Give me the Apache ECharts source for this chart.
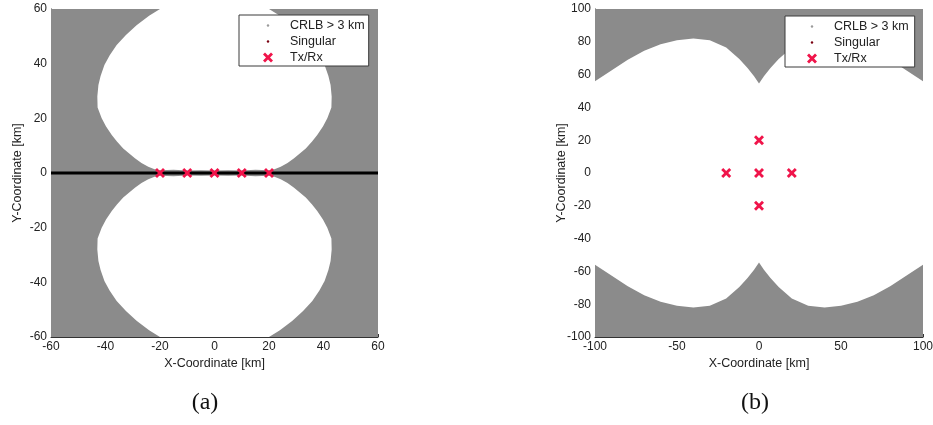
<!DOCTYPE html>
<html>
<head>
<meta charset="utf-8">
<title>CRLB coverage</title>
<script src="https://cdn.jsdelivr.net/npm/echarts@6/dist/echarts.min.js"></script>
<style>
  html, body { margin: 0; padding: 0; background: #ffffff; }
  #chart { width: 933px; height: 425px; }
</style>
</head>
<body>
<div id="chart"></div>
<script>
// ---------- Panel (a): transmitters/receivers on a line ----------
const aTicksX = [-60, -40, -20, 0, 20, 40, 60];
const aTicksY = [-60, -40, -20, 0, 20, 40, 60];
const aTxRxX = [-20, -10, 0, 10, 20];
const aTxRxY = [0, 0, 0, 0, 0];
const aSingularX = [-60, 60];
const aSingularY = [0, 0];
// outline of the upper region where CRLB <= 3 km
const aUpperLobeX = [-20.0, -24.0, -28.6, -32.5, -35.9, -38.5, -40.4, -41.8, -42.6, -43.0, -42.9,
  -41.4, -39.8, -37.7, -35.8, -33.5, -31.3, -29.2, -26.8, -24.3, -22.0, -20.0,
  -15.0, -10.0, -5.0, 0.0, 5.0, 10.0, 15.0,
  20.0, 22.0, 24.3, 26.8, 29.2, 31.3, 33.5, 35.8, 37.7, 39.8, 41.4,
  42.9, 43.0, 42.6, 41.8, 40.4, 38.5, 35.9, 32.5, 28.6, 24.0, 20.0];
const aUpperLobeY = [60.0, 57.5, 54.1, 50.5, 46.8, 43.0, 39.5, 35.5, 32.2, 28.0, 24.0,
  20.0, 17.0, 13.9, 11.5, 9.0, 7.1, 5.4, 3.7, 2.3, 1.4, 1.0,
  1.2, 0.9, 1.0, 0.9, 1.0, 0.9, 1.2,
  1.0, 1.4, 2.3, 3.7, 5.4, 7.1, 9.0, 11.5, 13.9, 17.0, 20.0,
  24.0, 28.0, 32.2, 35.5, 39.5, 43.0, 46.8, 50.5, 54.1, 57.5, 60.0];
// outline of the lower region where CRLB <= 3 km
const aLowerLobeX = [-20.0, -24.0, -28.6, -32.5, -35.9, -38.5, -40.4, -41.8, -42.6, -43.0, -42.9,
  -41.4, -39.8, -37.7, -35.8, -33.5, -31.3, -29.2, -26.8, -24.3, -22.0, -20.0,
  -15.0, -10.0, -5.0, 0.0, 5.0, 10.0, 15.0,
  20.0, 22.0, 24.3, 26.8, 29.2, 31.3, 33.5, 35.8, 37.7, 39.8, 41.4,
  42.9, 43.0, 42.6, 41.8, 40.4, 38.5, 35.9, 32.5, 28.6, 24.0, 20.0];
const aLowerLobeY = [-60.0, -57.5, -54.1, -50.5, -46.8, -43.0, -39.5, -35.5, -32.2, -28.0, -24.0,
  -20.0, -17.0, -13.9, -11.5, -9.0, -7.1, -5.4, -3.7, -2.3, -1.4, -1.0,
  -1.2, -0.9, -1.0, -0.9, -1.0, -0.9, -1.2,
  -1.0, -1.4, -2.3, -3.7, -5.4, -7.1, -9.0, -11.5, -13.9, -17.0, -20.0,
  -24.0, -28.0, -32.2, -35.5, -39.5, -43.0, -46.8, -50.5, -54.1, -57.5, -60.0];

// ---------- Panel (b): cross-shaped layout ----------
const bTicksX = [-100, -50, 0, 50, 100];
const bTicksY = [-100, -80, -60, -40, -20, 0, 20, 40, 60, 80, 100];
const bTxRxX = [-20, 0, 20, 0, 0];
const bTxRxY = [0, 0, 0, 20, -20];
const bSingularX = [];
const bSingularY = [];
// outline of the region where CRLB <= 3 km (top edge left to right, bottom edge right to left)
const bGoodX = [-100, -90, -80, -70, -60, -50, -40, -30, -20, -12, -7, -3, 0,
  3, 7, 12, 20, 30, 40, 50, 60, 70, 80, 90, 100,
  100, 90, 80, 70, 60, 50, 40, 30, 20, 12, 7, 3, 0,
  -3, -7, -12, -20, -30, -40, -50, -60, -70, -80, -90, -100];
const bGoodY = [56, 62.5, 69, 74.5, 78.5, 81, 82, 81, 76.5, 69.5, 64, 59, 54.5,
  59, 64, 69.5, 76.5, 81, 82, 81, 78.5, 74.5, 69, 62.5, 56,
  -56, -62.5, -69, -74.5, -78.5, -81, -82, -81, -76.5, -69.5, -64, -59, -54.5,
  -59, -64, -69.5, -76.5, -81, -82, -81, -78.5, -74.5, -69, -62.5, -56];

// ---------- styling ----------
const FONT = '"Liberation Sans", Arial, Helvetica, sans-serif';
const GREY = '#8b8b8b';
const CROSS_RED = '#f0144a';
const CROSS = 'path://M0,20L20,0L50,30L80,0L100,20L70,50L100,80L80,100L50,70L20,100L0,80L30,50Z';
// legend icons drawn inside a 340x100 box so that every icon keeps its own size
const ICON_CROSS = 'path://M0,0M340,100M120,20L140,0L170,30L200,0L220,20L190,50L220,80L200,100L170,70L140,100L120,80L150,50Z';
const ICON_DOT = 'path://M0,0M340,100M170,38A12,12,0,1,1,170,62A12,12,0,1,1,170,38Z';

function polygonSeries(name, xs, ys, color, axisIndex, z) {
  return {
    type: 'custom',
    name: name,
    xAxisIndex: axisIndex,
    yAxisIndex: axisIndex,
    z: z,
    silent: true,
    data: [[xs[0], ys[0]]],
    renderItem: function (params, api) {
      return {
        type: 'polygon',
        shape: { points: xs.map(function (x, i) { return api.coord([x, ys[i]]); }) },
        style: { fill: color }
      };
    }
  };
}

function frame(ticksX, ticksY) {
  const x0 = ticksX[0], x1 = ticksX[ticksX.length - 1];
  const y0 = ticksY[0], y1 = ticksY[ticksY.length - 1];
  return { xs: [x0, x1, x1, x0], ys: [y0, y0, y1, y1] };
}

function makeAxis(kind, gridIndex, ticks, name) {
  const isX = kind === 'x';
  return {
    type: 'value',
    gridIndex: gridIndex,
    min: ticks[0],
    max: ticks[ticks.length - 1],
    interval: ticks[1] - ticks[0],
    name: name,
    nameLocation: 'middle',
    nameGap: isX ? 20 : 27,
    nameMoveOverlap: false,
    nameTextStyle: { fontFamily: FONT, fontSize: 12.5, color: '#222' },
    axisLine: { show: true, onZero: false, lineStyle: { color: '#333', width: 1 } },
    axisTick: { show: true, inside: true, length: 3, lineStyle: { color: '#333' } },
    axisLabel: {
      fontFamily: FONT, fontSize: 12, color: '#222', margin: 4,
      showMinLabel: true, showMaxLabel: true, hideOverlap: false
    },
    splitLine: { show: false }
  };
}

function legendFor(left, top, padding) {
  return {
    left: left, top: top, orient: 'vertical', z: 20,
    itemWidth: 34, itemHeight: 10, itemGap: 3,
    padding: padding,
    backgroundColor: '#ffffff', borderColor: '#3a3a3a', borderWidth: 1, borderRadius: 0,
    selectedMode: false,
    textStyle: { fontFamily: FONT, fontSize: 12.5, color: '#222' },
    data: [
      { name: 'CRLB > 3 km', icon: ICON_DOT, itemStyle: { color: '#9a9a9a' } },
      { name: 'Singular', icon: ICON_DOT, itemStyle: { color: '#7a0010' } },
      { name: 'Tx/Rx', icon: ICON_CROSS, itemStyle: { color: CROSS_RED } }
    ]
  };
}

function panelSeries(idx, ticksX, ticksY, lobes, singX, singY, txX, txY) {
  const f = frame(ticksX, ticksY);
  const list = [polygonSeries('CRLB > 3 km', f.xs, f.ys, GREY, idx, 1)];
  lobes.forEach(function (l) { list.push(polygonSeries('', l[0], l[1], '#ffffff', idx, 2)); });
  list.push({
    type: 'line', name: 'Singular', xAxisIndex: idx, yAxisIndex: idx, z: 3,
    silent: true, symbol: 'none', animation: false,
    lineStyle: { color: '#000000', width: 3 },
    itemStyle: { color: '#7a0010' },
    data: singX.map(function (x, i) { return [x, singY[i]]; })
  });
  list.push({
    type: 'scatter', name: 'Tx/Rx', xAxisIndex: idx, yAxisIndex: idx, z: 4,
    silent: true, symbol: CROSS, symbolSize: 10,
    itemStyle: { color: CROSS_RED, opacity: 1 },
    data: txX.map(function (x, i) { return [x, txY[i]]; })
  });
  return list;
}

const chart = echarts.init(document.getElementById('chart'), null, { renderer: 'canvas' });
chart.setOption({
  animation: false,
  backgroundColor: '#ffffff',
  grid: [
    { left: 51, top: 9, width: 327, height: 328, outerBoundsMode: 'none', containLabel: false },
    { left: 595, top: 9, width: 328, height: 328, outerBoundsMode: 'none', containLabel: false }
  ],
  xAxis: [
    makeAxis('x', 0, aTicksX, 'X-Coordinate [km]'),
    makeAxis('x', 1, bTicksX, 'X-Coordinate [km]')
  ],
  yAxis: [
    makeAxis('y', 0, aTicksY, 'Y-Coordinate [km]'),
    makeAxis('y', 1, bTicksY, 'Y-Coordinate [km]')
  ],
  legend: [
    legendFor(239, 15, [4, 4, 2, 12]),
    legendFor(785, 16, [4, 6, 2, 10])
  ],
  graphic: [
    { type: 'text', x: 205, y: 403, z: 30,
      style: { text: '(a)', fontFamily: '"Liberation Serif", "DejaVu Serif", serif', fontSize: 24,
               fill: '#111', align: 'center', verticalAlign: 'middle' } },
    { type: 'text', x: 755, y: 403, z: 30,
      style: { text: '(b)', fontFamily: '"Liberation Serif", "DejaVu Serif", serif', fontSize: 24,
               fill: '#111', align: 'center', verticalAlign: 'middle' } }
  ],
  series: [].concat(
    panelSeries(0, aTicksX, aTicksY, [[aUpperLobeX, aUpperLobeY], [aLowerLobeX, aLowerLobeY]],
                aSingularX, aSingularY, aTxRxX, aTxRxY),
    panelSeries(1, bTicksX, bTicksY, [[bGoodX, bGoodY]],
                bSingularX, bSingularY, bTxRxX, bTxRxY)
  )
});
</script>
</body>
</html>
